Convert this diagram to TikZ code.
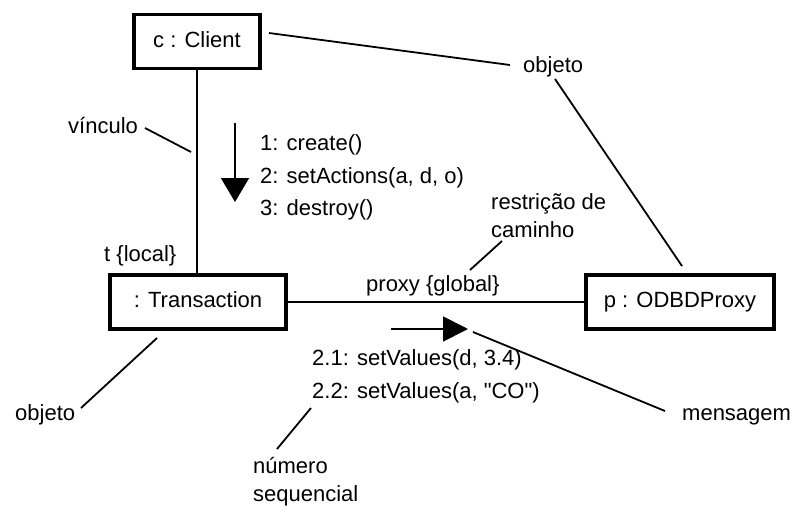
\documentclass[tikz,border=0pt]{standalone}
\usepackage{fontspec}
\setmainfont{Liberation Sans}[Ligatures=TeXOff]
\usetikzlibrary{arrows.meta}
\begin{document}
\begin{tikzpicture}[x=1pt,y=-1pt,
  objbox/.style={draw, line width=3.5pt, inner sep=0pt, minimum height=54pt,
    font=\fontsize{22}{26}\selectfont, text height=16pt, text depth=5pt},
  lbl/.style={inner sep=0pt, anchor=base west, font=\fontsize{22}{26}\selectfont},
  link/.style={line width=1.8pt},
  note/.style={line width=1.8pt},
  msgdown/.style={line width=1.8pt, -{Triangle[length=24pt,width=28pt]}},
  msgright/.style={line width=1.8pt, -{Triangle[length=25pt,width=25pt]}}]
\useasboundingbox (0,0) rectangle (795,509);
\fill[white] (0,0) rectangle (795,509);

% objects
\node[objbox, minimum width=126pt] (client) at (197,41.5) {c : Client};
\node[objbox, minimum width=176pt] (trans) at (198,302) {: Transaction};
\node[objbox, minimum width=188pt] (proxy) at (680,302) {p : ODBDProxy};

% links
\draw[link] (client.south) -- (client.south |- trans.north);
\draw[link] (trans.east) -- (proxy.west);

% label "objeto" on the client-proxy link
\node[lbl] (objA) at (523,72) {objeto};
\coordinate (cA) at (269,33);
\coordinate (cB) at (510,65);
\coordinate (cC) at (555,79);
\coordinate (cD) at (682,266);
\draw[link] (cA) -- (cB);
\draw[link] (cC) -- (cD);

% texts
\node[lbl] (vinc) at (68,133) {vínculo};
\node[lbl] (m1) at (260,150) {1: create()};
\node[lbl] (m2) at (260,183) {2: setActions(a, d, o)};
\node[lbl] (m3) at (260,215) {3: destroy()};
\node[lbl] (restr1) at (491,209) {restrição de};
\node[lbl] (restr2) at (491,237) {caminho};
\node[lbl] (tloc) at (104,261) {t {\char`\{}local{\char`\}}};
\node[lbl] (pglob) at (366,291) {proxy {\char`\{}global{\char`\}}};
\node[lbl] (m21) at (312,365) {2.1: setValues(d, 3.4)};
\node[lbl] (m22) at (312,398) {2.2: setValues(a, "CO")};
\node[lbl] (mens) at (682,420) {mensagem};
\node[lbl] (objB) at (15,420) {objeto};
\node[lbl] (num1) at (253,473) {número};
\node[lbl] (num2) at (253,501) {sequencial};

% message arrows
\coordinate (dA) at (235,123);
\coordinate (dB) at (235,202);
\draw[msgdown] (dA) -- (dB);
\coordinate (rA) at (391,329);
\coordinate (rB) at (468,329);
\draw[msgright] (rA) -- (rB);

% annotation lines
\coordinate (vA) at (145,128);
\coordinate (vB) at (191,152);
\draw[note] (vA) -- (vB);
\coordinate (pA) at (502,241);
\coordinate (pB) at (470,270);
\draw[note] (pA) -- (pB);
\coordinate (msA) at (473,332);
\coordinate (msB) at (665,411);
\draw[note] (msA) -- (msB);
\coordinate (oA) at (81,408);
\coordinate (oB) at (157,338);
\draw[note] (oA) -- (oB);
\coordinate (nA) at (311,408);
\coordinate (nB) at (277,449);
\draw[note] (nA) -- (nB);
\end{tikzpicture}
\end{document}
